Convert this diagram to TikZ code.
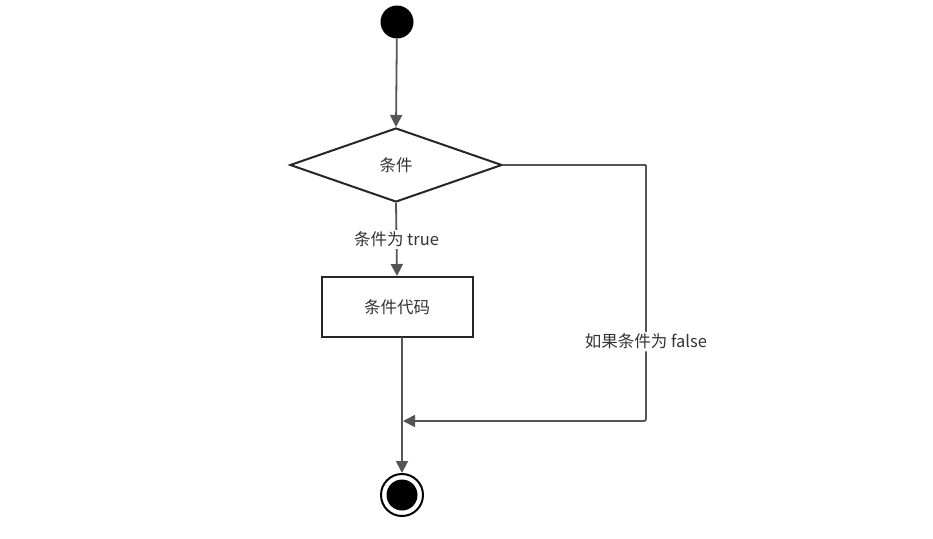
\documentclass[tikz,border=0pt]{standalone}
\usepackage{fontspec}
\setmainfont{Noto Sans CJK SC}
\usetikzlibrary{arrows.meta,shapes.geometric}
\definecolor{linegray}{HTML}{555555}
\definecolor{txtgray}{HTML}{333333}
\begin{document}
\begin{tikzpicture}[x=1pt,y=-1pt,
  flow/.style={draw=linegray,line width=1.8pt,-{Triangle[length=12pt,width=12pt]}},
  plain/.style={draw=linegray,line width=1.8pt,rounded corners=2pt},
  lbl/.style={fill=white,text=txtgray,font=\fontsize{16.5}{18}\selectfont,inner sep=2pt},
  box/.style={draw=black!85,line width=2pt,minimum width=151pt,minimum height=60pt,text=txtgray,font=\fontsize{16.5}{18}\selectfont}]
\useasboundingbox (0,0) rectangle (933,538);
\node[circle,fill=black,minimum size=33pt,inner sep=0pt] (start) at (397,22) {};
\node[diamond,draw=black!85,line width=2pt,minimum width=212pt,minimum height=74pt,inner sep=0pt,aspect=2.86,text=txtgray,font=\fontsize{16.5}{18}\selectfont] (cond) at (396,165) {条件};
\node[box] (code) at (397,307) {条件代码};
\node[circle,draw=black,line width=2pt,minimum size=42pt,inner sep=0pt] (endo) at (402,495) {};
\node[circle,fill=black,minimum size=31pt,inner sep=0pt] (endi) at (endo.center) {};
\coordinate (c1) at (646,165);
\coordinate (c2) at (646,421);
\coordinate (j) at (402,421);
\coordinate (cb) at (402,337);
\draw[flow] (start) -- (cond.north);
\draw[flow] (cond.south) -- node[lbl,pos=0.5]{条件为 true} (code.north);
\draw[plain] (cond.east) -- (c1);
\draw[flow,rounded corners=2pt] (c1) -- node[lbl,pos=0.69]{如果条件为 false} (c2) -- ([xshift=1pt]j);
\draw[flow] (cb) -- (endo.north);
\end{tikzpicture}
\end{document}
